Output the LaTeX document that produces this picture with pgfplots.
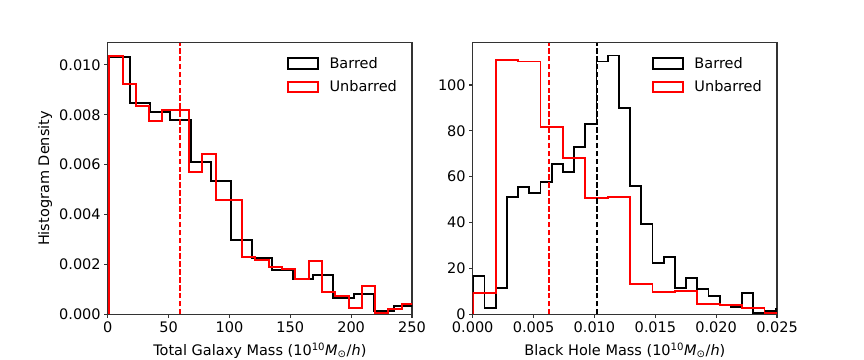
\documentclass[border=0pt]{standalone}
\usepackage{fontspec}
\setmainfont{DejaVu Sans}
\usepackage{pgfplots}
\pgfplotsset{compat=1.18}

\newcommand{\figfont}{\fontsize{14.5bp}{17bp}\selectfont}

\pgfplotsset{
  histax/.style={
    scale only axis,
    width=304.3bp, height=271.6bp,
    axis line style={black!80, line width=1.2bp},
    every tick/.style={black!80, line width=1.2bp},
    major tick length=3.5bp,
    tick align=outside,
    xtick pos=left, ytick pos=left,
    minor tick num=0,
    font=\figfont,
    tick label style={font=\figfont},
    /pgf/number format/assume math mode=true,
    xlabel style={at={(axis description cs:0.5,0)}, anchor=north, yshift=-28bp, inner sep=0pt},
    ylabel style={at={(axis description cs:-0.206,0.5)}, anchor=center},
    legend style={draw=none, fill=none, font=\figfont, at={(axis description cs:0.587,0.9465)},
      anchor=north west, inner sep=0pt, row sep=10.7bp,
      nodes={inner sep=0pt}},
    legend cell align=left,
    legend image code/.code={
      \draw[#1, line width=2bp] (0bp,-5.2bp) rectangle (30bp,5.2bp);
      \path (0bp,0bp) (41bp,0bp);
    },
  },
  stepline/.style={const plot mark left, line width=#1, line join=miter},
  vline/.style={line width=1.8bp, dash pattern=on 5.5bp off 2.4bp, forget plot},
}

\begin{document}
\begin{tikzpicture}
\path[use as bounding box] (0,0) rectangle (864bp,360bp);

% left panel: total galaxy mass
\begin{axis}[histax,
  at={(107.7bp,45.7bp)}, anchor=south west,
  xmin=0, xmax=250, ymin=0, ymax=0.01089,
  xtick={0,50,100,150,200,250},
  ytick={0,0.002,0.004,0.006,0.008,0.010},
  scaled y ticks=false,
  yticklabel style={/pgf/number format/.cd, fixed, fixed zerofill, precision=3},
  xlabel={Total Galaxy Mass (10\textsuperscript{10}\textit{M}\textsubscript{⊙}/\textit{h})},
  ylabel={Histogram Density},
]
\addplot[black, stepline=2bp] coordinates {
  (1.3,0) (1.3,0.01031) (18.03,0.00846) (34.76,0.00810) (51.49,0.00779)
  (68.22,0.00610) (84.95,0.00536) (101.68,0.00298) (118.41,0.00227)
  (135.14,0.00178) (151.87,0.00142) (168.6,0.00158) (185.33,0.00064)
  (202.06,0.00081) (218.79,0.00015) (235.52,0.00032) (252.25,0)
};
\addplot[red, stepline=2bp] coordinates {
  (1.3,0) (1.3,0.01037) (12.22,0.00923) (23.14,0.00837) (34.06,0.00777)
  (44.98,0.00819) (55.9,0.00819) (66.82,0.00570) (77.74,0.00643)
  (88.66,0.00458) (99.58,0.00458) (110.5,0.00231) (121.42,0.00218)
  (132.34,0.00191) (143.26,0.00182) (154.18,0.00140) (165.1,0.00215)
  (176.02,0.00088) (186.94,0.00073) (197.86,0.00024) (208.78,0.00114)
  (219.7,0.00006) (230.62,0.00021) (241.54,0.00040) (252.46,0)
};
\addplot[red, vline] coordinates {(59.4,0) (59.4,0.01089)};
\legend{Barred, Unbarred}
\end{axis}

% right panel: black hole mass
\begin{axis}[histax,
  at={(472.7bp,45.7bp)}, anchor=south west,
  xmin=0, xmax=0.025, ymin=0, ymax=118.4,
  xtick={0,0.005,0.01,0.015,0.02,0.025},
  ytick={0,20,40,60,80,100},
  scaled x ticks=false,
  xticklabel style={/pgf/number format/.cd, fixed, fixed zerofill, precision=3},
  xlabel={Black Hole Mass (10\textsuperscript{10}\textit{M}\textsubscript{⊙}/\textit{h})},
]
\addplot[black, stepline=1.9bp] coordinates {
  (0.00005,0) (0.00005,16.7) (0.00097,2.6) (0.00189,11.6) (0.00281,51.3)
  (0.00373,55.6) (0.00465,53.0) (0.00557,57.8) (0.00649,65.5) (0.00741,62.1)
  (0.00833,73.1) (0.00925,83.0) (0.01017,110.2) (0.01109,112.8) (0.01201,90.1)
  (0.01293,56.0) (0.01385,39.4) (0.01477,22.2) (0.01569,25.1) (0.01661,11.6)
  (0.01753,16.0) (0.01845,10.9) (0.01937,8.0) (0.02029,4.2) (0.02121,3.3)
  (0.02213,9.2) (0.02305,0.4) (0.02397,1.6) (0.02489,2.2) (0.02581,0)
};
\addplot[red, stepline=1.9bp] coordinates {
  (0.00005,0) (0.00005,9.4) (0.00189,110.9) (0.00373,110.2) (0.00557,81.5)
  (0.00741,68.3) (0.00925,50.6) (0.01109,51.3) (0.01293,13.2) (0.01477,9.7)
  (0.01661,10.3) (0.01845,4.5) (0.02029,4.1) (0.02213,2.6) (0.02397,0.4)
  (0.02581,0)
};
\addplot[red, vline] coordinates {(0.00626,0) (0.00626,118.4)};
\addplot[black, vline] coordinates {(0.01018,0) (0.01018,118.4)};
\legend{Barred, Unbarred}
\end{axis}
\end{tikzpicture}
\end{document}
